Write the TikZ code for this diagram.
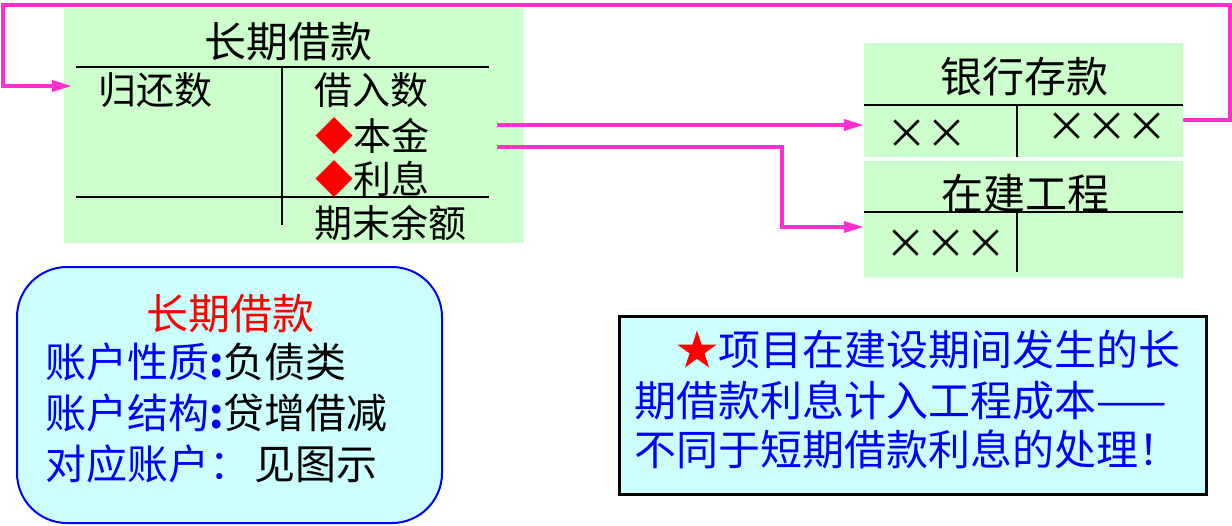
\documentclass[tikz,border=0pt]{standalone}
\usepackage{fontspec}
\setmainfont{Noto Sans CJK SC}
\usetikzlibrary{arrows.meta}
\definecolor{tgreen}{HTML}{CCFFCC}
\definecolor{tcyan}{HTML}{CCFFFF}
\definecolor{mag}{HTML}{FF2FD0}
\definecolor{tblue}{HTML}{0000FF}
\definecolor{tred}{HTML}{FF0000}
\begin{document}
\begin{tikzpicture}[x=1pt,y=-1pt,
  greenbox/.style={rectangle,fill=tgreen,draw=none,inner sep=0pt},
  tline/.style={line width=2.8pt},
  vline/.style={line width=2pt},
  flowline/.style={draw=mag,line width=3.5pt,line join=miter},
  flow/.style={flowline,-{Triangle[length=20pt,width=11pt]}},
  txt/.style={inner sep=0pt,anchor=west,font=\fontsize{38}{40}\selectfont},
  ttl/.style={inner sep=0pt,font=\fontsize{42}{44}\selectfont},
  btxt/.style={inner sep=0pt,anchor=west,font=\fontsize{41}{44}\selectfont},
  rtxt/.style={inner sep=0pt,anchor=west,text=tblue,font=\fontsize{42}{44}\selectfont},
  xmark/.style={inner sep=0pt,font=\fontsize{41}{43}\selectfont}
]
\useasboundingbox (0,0) rectangle (1232,525);
\fill[white] (0,0) rectangle (1232,525);

% boxes
\node[greenbox,minimum width=460pt,minimum height=235pt] (loan) at (294,125.5) {};
\node[greenbox,minimum width=319pt,minimum height=114pt] (bank) at (1023.5,100) {};
\node[greenbox,minimum width=319pt,minimum height=117pt] (cip) at (1023.5,219.5) {};

% loan T-account
\node[ttl] (loanT) at (288,42) {长期借款};
\draw[tline] (76,67) -- (489,67);
\draw[tline] (76,197) -- (489,197);
\draw[vline] (282,67) -- (282,225);
\node[txt] (dr) at (98,90) {归还数};
\node[txt] (cr) at (314,90) {借入数};
\node[txt] (princ) at (315,136) {\textcolor{tred}{◆}本金};
\node[txt] (intr) at (315,179) {\textcolor{tred}{◆}利息};
\node[txt] (bal) at (314,223) {期末余额};

% bank T-account
\node[ttl] (bankT) at (1024,77) {银行存款};
\draw[tline] (864,105) -- (1183,105);
\draw[vline] (1017,106) -- (1017,157);
\node[xmark] (bx1) at (927,134) {×\kern-1pt×};
\node[xmark] (bx2) at (1107,127) {×\kern-1pt×\kern-1pt×};

% CIP T-account
\node[ttl] (cipT) at (1025,194) {在建工程};
\draw[tline] (864,212) -- (1183,212);
\draw[vline] (1017,213) -- (1017,272);
\node[xmark] (cx1) at (946,244) {×\kern-1pt×\kern-1pt×};

% connectors
\coordinate (s1) at (497,125);
\coordinate (s2) at (497,147);
\coordinate (t1) at (bank.west |- s1);
\coordinate (t2) at (cip.west |- 0,227);
\draw[flow] (s1) -- (t1);
\draw[flow] (s2) -- (782,147) -- (782,227) -- (t2);
\coordinate (r0) at (bank.east |- 0,120);
\coordinate (l1) at (72,86);
\draw[flow] (r0) -- (1230,120) -- (1230,5) -- (3,5) -- (3,86) -- (l1);

% summary box
\node[rectangle,rounded corners=50pt,fill=tcyan,draw=tblue,line width=2pt,
      minimum width=425pt,minimum height=256pt,inner sep=0pt] (sum) at (229.5,395) {};
\node[ttl,text=tred] (sumT) at (230,314) {长期借款};
\node[btxt] (s1t) at (45,362) {\textcolor{tblue}{账户性质\textbf{:}}负债类};
\node[btxt] (s2t) at (45,413) {\textcolor{tblue}{账户结构\textbf{:}}贷增借减};
\node[btxt] (s3t) at (45,464) {\textcolor{tblue}{对应账户：}\kern4pt见图示};

% note box
\node[rectangle,fill=tcyan,draw=black,line width=3pt,
      minimum width=587pt,minimum height=178pt,inner sep=0pt] (note) at (912.5,405) {};
\node[rtxt] (n1) at (676,350) {\textcolor{tred}{★}项目在建设期间发生的长};
\node[rtxt] (n2) at (634,400) {期借款利息计入工程成本——};
\node[rtxt] (n3) at (634,449) {不同于短期借款利息的处理！};
\end{tikzpicture}
\end{document}
